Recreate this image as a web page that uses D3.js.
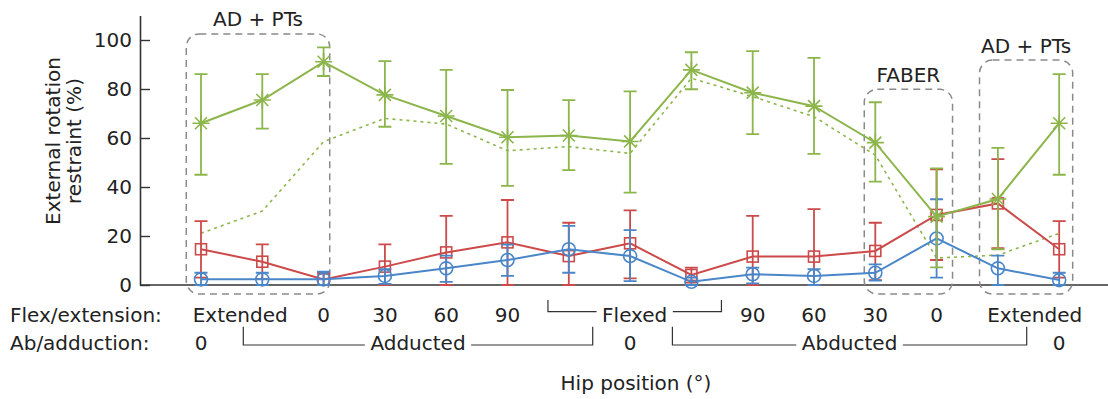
<!DOCTYPE html>
<html>
<head>
<meta charset="utf-8">
<script src="https://cdn.jsdelivr.net/npm/d3@7"></script>
<style>
  body { margin: 0; background: #fff; }
  svg text { font-family: "DejaVu Sans", sans-serif; font-size: 20px; fill: #222; }
</style>
</head>
<body>
<div id="chart"></div>
<script>
// values (external rotation restraint, %)
const positions = d3.range(15);

const greenMean = [66, 75.5, 91.1, 77.6, 69, 60.3, 61, 58.6, 87.8, 78.5, 73, 58.1, 27.9, 35.1, 66];
const greenHi   = [86.1, 86.1, 97, 91.4, 87.8, 79.6, 75.5, 79, 95, 95.5, 92.7, 74.6, 47.6, 56, 86.1];
const greenLo   = [45, 63.8, 85.3, 64.6, 49.4, 40.5, 46.9, 37.7, 79.9, 61.6, 53.5, 42.2, 7.2, 14.6, 45];
const greenDash = [21.1, 30.2, 58.5, 68, 65.7, 54.8, 56.5, 53.7, 84.4, 76.9, 68.7, 53, 11, 12.2, 21.1];

const redMean = [14.6, 9.5, 2.3, 7.5, 13.3, 17.4, 11.8, 17.0, 4.1, 11.6, 11.6, 13.9, 28.6, 33.3, 14.6];
const redHi   = [26.1, 16.6, 5, 16.6, 28.2, 34.7, 25.4, 30.5, 7.1, 28.2, 31.0, 25.4, 47.2, 51.4, 26.1];
const redLo   = [3, 2.4, 0, 0, 0, 0, 0, 2.7, 1, 0, 0, 2, 10.2, 15, 3];

const blueMean = [2.3, 2.3, 2.3, 3.7, 6.8, 10.2, 14.6, 11.8, 1.3, 4.4, 3.7, 5.0, 19.0, 6.8, 2.0];
const blueHi   = [5, 5, 5.4, 6.5, 12, 16.5, 24.1, 22.4, 3, 7.1, 6.5, 8.4, 35, 12, 5];
const blueLo   = [0, 0, 0, 0.5, 1.3, 3.7, 5.0, 1.6, 0, 0.7, 0, 1.8, 3.0, 0, 0];

const yTicks = [0, 20, 40, 60, 80, 100];

// category labels under the axis: [position, text]
const flexTicks = [[0.64, "Extended"], [2, "0"], [3, "30"], [4, "60"], [5, "90"],
  [9, "90"], [10, "60"], [11, "30"], [12, "0"], [13.6, "Extended"]];
const abdTicks = [[0, "0"], [7, "0"], [14, "0"]];
// [label, from, to, row]
const brackets = [["Flexed", 5.66, 8.49, 1], ["Adducted", 0.69, 6.39, 2], ["Abducted", 7.69, 13.47, 2]];
// dashed group boxes: [label, from, to, top value]
const boxes = [["AD + PTs", -0.24, 2.1, 102.5], ["FABER", 10.82, 12.26, 79.9], ["AD + PTs", 12.7, 14.22, 91.8]];

const width = 1108, height = 399;
const GREEN = "#8cb54b", RED = "#cc4a4a", BLUE = "#4a86c8";

const svg = d3.select("#chart").append("svg")
  .attr("width", width)
  .attr("height", height);

const x = d3.scaleLinear().domain([0, 14]).range([201, 1059.2]);
const y = d3.scaleLinear().domain([0, 110]).range([285, 15.5]);

// y axis, ticks pointing inward
const yAxis = svg.append("g")
  .attr("transform", "translate(140,0)")
  .call(d3.axisLeft(y).tickValues(yTicks).tickSize(-10).tickSizeOuter(0).tickPadding(8));
yAxis.select(".domain").attr("stroke", "#333").attr("stroke-width", 1.6);
yAxis.selectAll(".tick line").attr("stroke", "#333").attr("stroke-width", 1.4);
yAxis.selectAll(".tick text").attr("fill", "#222").style("font-size", "20px")
  .style("font-family", "DejaVu Sans, sans-serif");

// x axis baseline
svg.append("line")
  .attr("x1", 140).attr("x2", width)
  .attr("y1", y(0)).attr("y2", y(0))
  .attr("stroke", "#333").attr("stroke-width", 1.6);

// y axis title, two lines
const yTitle = svg.append("text")
  .attr("transform", "translate(60,141) rotate(-90)")
  .attr("text-anchor", "middle");
yTitle.append("tspan").attr("x", 0).attr("dy", 0).text("External rotation");
yTitle.append("tspan").attr("x", 0).attr("dy", 21).text("restraint (%)");

// dashed group boxes
boxes.forEach(([label, a, b, top]) => {
  svg.append("rect")
    .attr("x", x(a)).attr("y", y(top))
    .attr("width", x(b) - x(a)).attr("height", y(-3.7) - y(top))
    .attr("rx", 13).attr("ry", 13)
    .attr("fill", "none")
    .attr("stroke", "#8a8a8a")
    .attr("stroke-width", 1.5)
    .attr("stroke-dasharray", "7,5");
  svg.append("text")
    .attr("x", (x(a) + x(b)) / 2)
    .attr("y", y(top) - 7.5)
    .attr("text-anchor", "middle")
    .text(label);
});

// dashed green reference line
svg.append("path")
  .datum(greenDash)
  .attr("d", d3.line().x((d, i) => x(i)).y(d => y(d)))
  .attr("fill", "none")
  .attr("stroke", GREEN)
  .attr("stroke-width", 1.6)
  .attr("stroke-dasharray", "3,4");

function drawSeries(mean, lo, hi, color, marker) {
  const g = svg.append("g");
  const cap = 6.5;
  // error bars
  positions.forEach(i => {
    const px = x(i);
    g.append("path")
      .attr("d", `M${px},${y(lo[i])}V${y(hi[i])}M${px - cap},${y(hi[i])}H${px + cap}M${px - cap},${y(lo[i])}H${px + cap}`)
      .attr("stroke", color)
      .attr("stroke-width", 1.8)
      .attr("fill", "none");
  });
  g.append("path")
    .datum(mean)
    .attr("d", d3.line().x((d, i) => x(i)).y(d => y(d)))
    .attr("fill", "none")
    .attr("stroke", color)
    .attr("stroke-width", 2);
  const m = g.selectAll(".m")
    .data(mean)
    .enter()
    .append("g")
    .attr("transform", (d, i) => `translate(${x(i)},${y(d)})`);
  if (marker === "circle") {
    m.append("circle").attr("r", 6.5).attr("fill", "none")
      .attr("stroke", color).attr("stroke-width", 1.6);
  } else if (marker === "square") {
    m.append("rect").attr("x", -5.5).attr("y", -5.5).attr("width", 11).attr("height", 11)
      .attr("fill", "none").attr("stroke", color).attr("stroke-width", 1.6);
  } else {
    m.append("path")
      .attr("d", "M-8.5,0H8.5M0,-8.5V8.5M-6,-6L6,6M-6,6L6,-6")
      .attr("stroke", color).attr("stroke-width", 1.6).attr("fill", "none");
  }
}

drawSeries(redMean, redLo, redHi, RED, "square");
drawSeries(blueMean, blueLo, blueHi, BLUE, "circle");
drawSeries(greenMean, greenLo, greenHi, GREEN, "star");

// category rows under the axis
const rowBase = { 1: 322, 2: 350 };
const rowTop = { 1: 300, 2: 326.7 };
const rowLine = { 1: 311.7, 2: 345 };

svg.append("text").attr("x", 10).attr("y", rowBase[1]).text("Flex/extension:");
svg.append("text").attr("x", 10).attr("y", rowBase[2]).text("Ab/adduction:");

flexTicks.forEach(([p, t]) => {
  svg.append("text").attr("x", x(p)).attr("y", rowBase[1])
    .attr("text-anchor", "middle").text(t);
});
abdTicks.forEach(([p, t]) => {
  svg.append("text").attr("x", x(p)).attr("y", rowBase[2])
    .attr("text-anchor", "middle").text(t);
});

brackets.forEach(([label, a, b, row]) => {
  const x0 = x(a), x1 = x(b), mid = (x0 + x1) / 2;
  const t = svg.append("text").attr("x", mid).attr("y", rowBase[row])
    .attr("text-anchor", "middle").text(label);
  const half = t.node().getComputedTextLength() / 2 + 5.5;
  const ly = rowLine[row];
  svg.append("path")
    .attr("d", `M${x0},${rowTop[row]}V${ly}H${mid - half}M${mid + half},${ly}H${x1}V${rowTop[row]}`)
    .attr("fill", "none")
    .attr("stroke", "#333")
    .attr("stroke-width", 1.2);
});

svg.append("text")
  .attr("x", 636).attr("y", 390)
  .attr("text-anchor", "middle")
  .text("Hip position (°)");
</script>
</body>
</html>
